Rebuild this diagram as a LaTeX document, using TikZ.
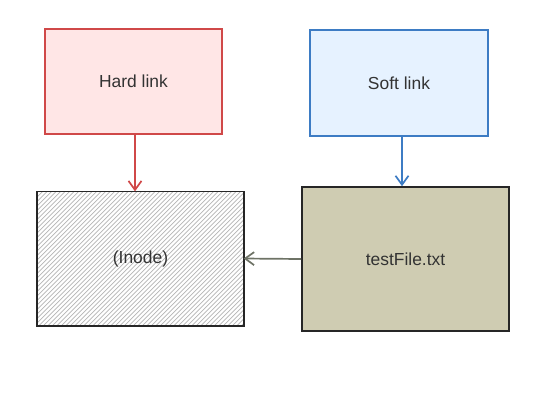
\documentclass[tikz,border=0pt]{standalone}
\usepackage{fontspec}
\setmainfont{Liberation Sans}
\usetikzlibrary{arrows.meta}
\definecolor{hardfill}{HTML}{FFE6E6}
\definecolor{harddraw}{HTML}{D04848}
\definecolor{softfill}{HTML}{E6F2FF}
\definecolor{softdraw}{HTML}{3D7CC4}
\definecolor{filefill}{HTML}{CFCCB2}
\definecolor{txt}{HTML}{333333}
\definecolor{arrgray}{HTML}{6E7366}
\definecolor{hatch}{HTML}{B4B4B4}
\tikzset{
  box/.style={rectangle, inner sep=0pt, line width=1.3bp, text=txt, font=\fontsize{17.5}{20}\selectfont},
  conn/.style={line width=1.7bp, -{Straight Barb[length=9bp,width=13bp,line width=1.7bp]}},
}
\begin{document}
\begin{tikzpicture}[x=1bp,y=-1bp]
\useasboundingbox (0,0) rectangle (540,414);
\node[box, draw=harddraw, fill=hardfill, minimum width=177bp, minimum height=105bp] (hard) at (133.5,81.5) {Hard link};
\node[box, draw=softdraw, fill=softfill, minimum width=178bp, minimum height=106bp] (soft) at (399,83) {Soft link};
\node[box, fill=white, minimum width=205bp, minimum height=133bp] (inode) at (140.5,258.5) {};
\begin{scope}
  \clip (inode.south west) rectangle (inode.north east);
  \foreach \k in {-150,-145.5,...,250} {
    \draw[hatch, line width=0.7bp] (\k,330) -- (\k+140,190);
  }
\end{scope}
\draw[black!85, line width=1.7bp] (inode.south west) rectangle (inode.north east);
\node[box] at (inode.center) {(Inode)};
\node[box, draw=black!85, fill=filefill, line width=1.6bp, minimum width=207bp, minimum height=144bp] (file) at (405.5,259) {testFile.txt};
\draw[conn, draw=harddraw] (hard.south -| 135,0) -- (inode.north -| 135,0);
\draw[conn, draw=softdraw] (soft.south -| 402,0) -- (file.north -| 402,0);
\draw[conn, draw=arrgray] (file.west) -- (inode.east);
\end{tikzpicture}
\end{document}
